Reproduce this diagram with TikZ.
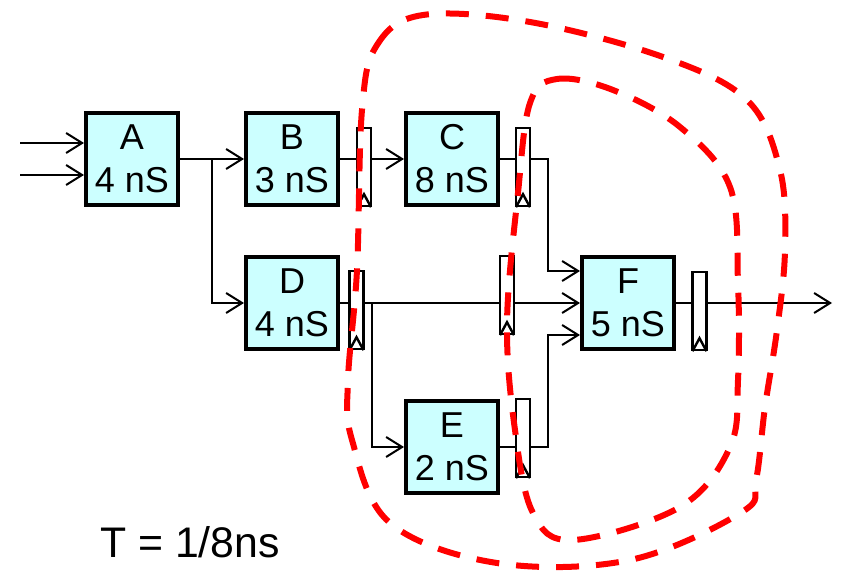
\documentclass[tikz,border=0pt]{standalone}
\usepackage{fontspec}
\setmainfont{Liberation Sans}
\usetikzlibrary{arrows.meta}
\definecolor{stagefill}{RGB}{204,255,255}
\tikzset{
    stage/.style={draw,line width=2pt,fill=stagefill,minimum width=46pt,minimum height=46pt,inner sep=0pt,align=center,font=\fontsize{18pt}{21.5pt}\selectfont},
    latch/.style={draw,line width=1.2pt,fill=white,minimum width=7pt,minimum height=39pt,inner sep=0pt},
    wire/.style={line width=1pt},
    feed/.style={wire,-{Straight Barb[length=8pt,width=10pt]}},
    cut/.style={draw=red,line width=3pt,dash pattern=on 11.5pt off 8.5pt}
}
\begin{document}
\begin{tikzpicture}[x=0.5pt,y=-0.5pt]
    \useasboundingbox(0,0)rectangle(846,571);
    % stages
    \node[stage](A)at(132,159){A\\4 nS};
    \node[stage](B)at(292,159){B\\3 nS};
    \node[stage](C)at(452,159){C\\8 nS};
    \node[stage](D)at(292,303){D\\4 nS};
    \node[stage](E)at(452,447){E\\2 nS};
    \node[stage](F)at(628,303){F\\5 nS};
    % registers
    \node[latch](rB)at(364,167){};
    \node[latch](rC)at(523,167){};
    \node[latch](rD)at(356.5,310){};
    \node[latch](rM)at(507,295){};
    \node[latch](rE)at(523,438){};
    \node[latch](rF)at(699.5,311){};
    \foreach \r in {rB,rC,rD,rM,rE,rF}
        \draw[line width=1.2pt]([xshift=0.6pt]\r.south west)--([yshift=6.5pt]\r.south)--([xshift=-0.6pt]\r.south east);
    % helper points
    \coordinate(in1)at(20,143);
    \coordinate(in2)at(20,175);
    \coordinate(s1)at(212,159);
    \coordinate(s2)at(372,303);
    \coordinate(bus)at(548,0);
    \coordinate(f1)at(580,271);
    \coordinate(f3)at(580,335);
    \coordinate(out)at(832,303);
    % wires
    \draw[feed](in1)--(in1-|A.west);
    \draw[feed](in2)--(in2-|A.west);
    \draw[feed](A)--(B);
    \draw[feed](s1)|-(D);
    \draw[wire](B)--(B.east-|rB.west);
    \draw[feed](B.east-|rB.east)--(C);
    \draw[wire](C)--(C.east-|rC.west);
    \draw[feed](C.east-|rC.east)-|(bus|-f1)--(f1);
    \draw[wire](D)--(D.east-|rD.west);
    \draw[wire](D.east-|rD.east)--(D.east-|rM.west);
    \draw[feed](D.east-|rM.east)--(F);
    \draw[feed](s2)|-(E);
    \draw[wire](E)--(E.east-|rE.west);
    \draw[feed](E.east-|rE.east)-|(bus|-f3)--(f3);
    \draw[wire](F)--(F.east-|rF.west);
    \draw[feed](F.east-|rF.east)--(out);
    % cut lines
    \draw[cut]plot[smooth cycle,tension=0.6]coordinates{(362,110)(377,45)(423,15)(530,22)(663,57)(747,100)(780,170)(785,250)(777,330)(765,407)(756,480)(742,512)(630,560)(497,563)(390,523)(352,440)(348,380)(357,270)};
    \draw[cut]plot[smooth cycle,tension=0.6]coordinates{(530,103)(557,79)(613,90)(680,127)(730,187)(738,283)(738,380)(730,447)(680,507)(573,540)(533,513)(515,430)(507,323)(518,193)};
    \node[font=\fontsize{21.4pt}{25pt}\selectfont](period)at(190,542){T = 1/8ns};
\end{tikzpicture}
\end{document}
